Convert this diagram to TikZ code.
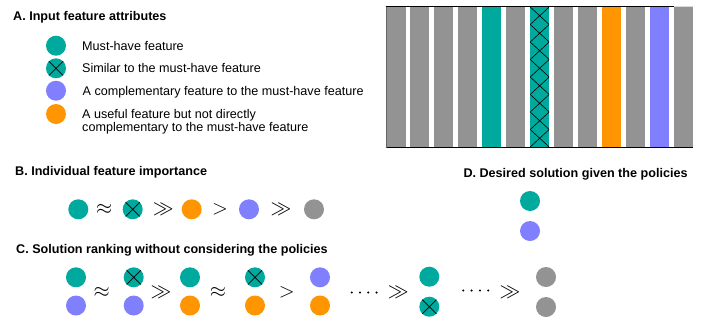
\documentclass[tikz,border=0pt]{standalone}
\usepackage{fontspec}
\setmainfont{Liberation Sans}
\definecolor{tealc}{HTML}{00A99D}
\definecolor{bluec}{HTML}{8080FF}
\definecolor{orangec}{HTML}{FF9500}
\definecolor{grayc}{HTML}{939393}
\begin{document}
\begin{tikzpicture}[x=1pt,y=-1pt,
 feat/.style={circle,minimum size=20pt,inner sep=0pt,draw=none},
 mh/.style={feat,fill=tealc},
 sim/.style={feat,fill=tealc,path picture={\draw[line width=0.7pt] (path picture bounding box.north west)--(path picture bounding box.south east) (path picture bounding box.north east)--(path picture bounding box.south west);}},
 comp/.style={feat,fill=bluec},
 use/.style={feat,fill=orangec},
 oth/.style={feat,fill=grayc},
 lbl/.style={anchor=base west,inner sep=0pt,font=\fontsize{12.6}{13.5}\selectfont},
 ttl/.style={anchor=base west,inner sep=0pt,font=\bfseries\fontsize{12.6}{14}\selectfont},
 rel/.style={inner sep=0pt,font=\fontsize{21}{23}\selectfont},
 dotc/.style={circle,fill=black,inner sep=0pt,minimum size=2.3pt}]
\useasboundingbox[fill=white] (0,0) rectangle (706,322);

% A. legend
\node[ttl] (tA) at (13,20) {A. Input feature attributes};
\node[mh] (l1) at (56,45.7) {};
\node[lbl] (t1) at (82,50) {Must-have feature};
\node[sim] (l2) at (56,68.3) {};
\node[lbl] (t2) at (82,72.7) {Similar to the must-have feature};
\node[comp] (l3) at (56,90.7) {};
\node[lbl] (t3) at (82.5,95) {A complementary feature to the must-have feature};
\node[use] (l4) at (56,114) {};
\node[lbl] (t4a) at (82,118.5) {A useful feature but not directly};
\node[lbl] (t4b) at (82,131.8) {complementary to the must-have feature};

% feature bars
\foreach \i/\c in {0/grayc,1/grayc,2/grayc,3/grayc,4/tealc,5/grayc,6/tealc,7/grayc,8/grayc,9/orangec,10/grayc,11/bluec,12/grayc}{
  \fill[\c] ({386.5+23.95*\i},6.7) rectangle ++(19,140.8);
}
\begin{scope}
\clip (530.2,6.7) rectangle ++(19,140.8);
\foreach \k in {0,...,7}{
  \draw[line width=0.6pt] (530.2,{7+17.5*\k}) -- ++(19,17.5) ++(0,-17.5) -- ++(-19,17.5);
}
\end{scope}
\draw[line width=0.9pt] (385.7,6.7) -- (674,6.7);
\draw[line width=0.9pt,gray!30] (674,6.7) -- (692.7,6.7);
\draw[line width=1pt] (385.7,147.5) -- (692.7,147.5);
\draw[line width=1.3pt,black!60] (386.3,6.7) -- (386.3,147.5);

% B
\node[ttl] (tB) at (15,175.6) {B. Individual feature importance};
\node[mh] (b1) at (78.3,209.3) {};
\node[rel] (br1) at (104.3,209.5) {$\approx$};
\node[sim] (b2) at (132.7,209.3) {};
\node[rel] (br2) at (163.3,209.5) {$\gg$};
\node[use] (b3) at (191.7,209.3) {};
\node[rel] (br3) at (220,209.5) {$>$};
\node[comp] (b4) at (249,209.3) {};
\node[rel] (br4) at (281,209.5) {$\gg$};
\node[oth] (b5) at (314,209.3) {};

% C
\node[ttl] (tC) at (16,253.3) {C. Solution ranking without considering the policies};
\node[mh] (c1a) at (76,277.3) {};
\node[comp] (c1b) at (76,305.5) {};
\node[rel] (cr1) at (101.7,292) {$\approx$};
\node[sim] (c2a) at (133.7,277.3) {};
\node[comp] (c2b) at (133.7,305.5) {};
\node[rel] (cr2) at (161,292) {$\gg$};
\node[mh] (c3a) at (190,277.3) {};
\node[use] (c3b) at (190,305.5) {};
\node[rel] (cr3) at (218,292) {$\approx$};
\node[sim] (c4a) at (255,277.3) {};
\node[use] (c4b) at (255,305.5) {};
\node[rel] (cr4) at (286.7,292) {$>$};
\node[comp] (c5a) at (320,277.3) {};
\node[use] (c5b) at (320,305.5) {};
\foreach \x [count=\n] in {351.7,360,368.3,376.6}{\node[dotc] (da\n) at (\x,292.5) {};}
\node[rel] (cr5) at (398.3,292) {$\gg$};
\node[mh] (c6a) at (429.3,276.7) {};
\node[sim] (c6b) at (429.3,306.7) {};
\foreach \x [count=\n] in {463.3,471.6,479.9,488.2}{\node[dotc] (db\n) at (\x,290.5) {};}
\node[rel] (cr6) at (510,292) {$\gg$};
\node[oth] (c7a) at (546,277) {};
\node[oth] (c7b) at (546,307) {};

% D
\node[ttl] (tD) at (463.3,177.3) {D. Desired solution given the policies};
\node[mh] (d1) at (530,201) {};
\node[comp] (d2) at (530,231) {};
\end{tikzpicture}
\end{document}
